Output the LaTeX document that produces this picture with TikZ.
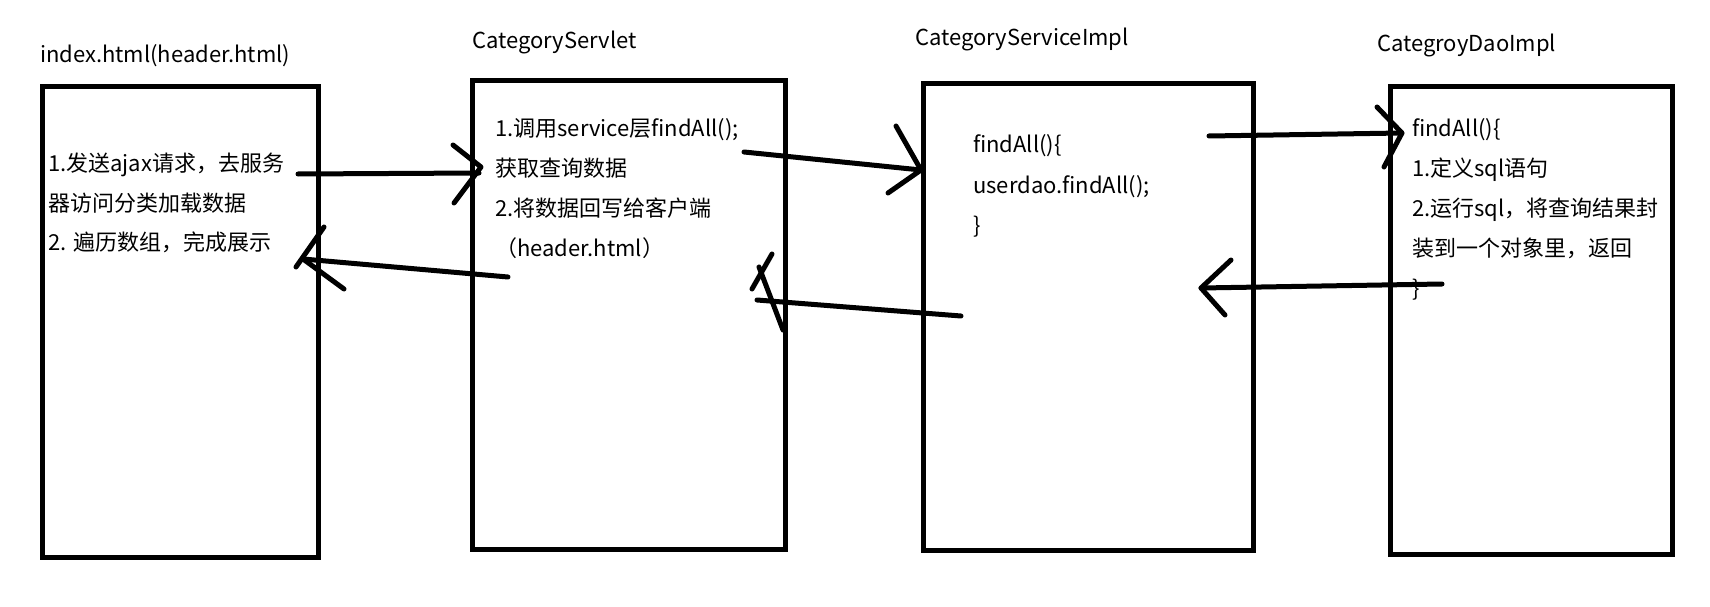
\documentclass[tikz,border=0pt]{standalone}
\usepackage{fontspec}
\setmainfont{Noto Sans CJK SC}
\usetikzlibrary{calc}

\begin{document}
\begin{tikzpicture}[x=1pt, y=-1pt,
  panel/.style={draw=black, line width=5pt, inner sep=0pt},
  pen/.style={black, line width=5pt, line cap=round, line join=round},
  lbl/.style={anchor=base west, inner sep=0pt, font=\fontsize{22pt}{26pt}\selectfont}]

  \fill[white] (0,0) rectangle (1710,607);
  \useasboundingbox (0,0) rectangle (1710,607);

  % the four layers
  \node[panel, minimum width=276pt, minimum height=470pt] (index) at (180,322) {};
  \node[panel, minimum width=313pt, minimum height=468pt] (servlet) at (628.5,315) {};
  \node[panel, minimum width=330pt, minimum height=466pt] (service) at (1088,317) {};
  \node[panel, minimum width=282pt, minimum height=467pt] (dao) at (1531,320.5) {};

  \node[lbl] (indexTitle) at (40,63) {index.html(header.html)};
  \node[lbl] (servletTitle) at (472,49) {CategoryServlet};
  \node[lbl] (serviceTitle) at (915,46) {CategoryServiceImpl};
  \node[lbl] (daoTitle) at (1377,52) {CategroyDaoImpl};

  \node[lbl] (index1) at (48,171) {1.发送ajax请求，去服务};
  \node[lbl] (index2) at (48,211) {器访问分类加载数据};
  \node[lbl] (index3) at (48,250) {2. 遍历数组，完成展示};

  \node[lbl] (servlet1) at (495,136) {1.调用service层findAll();};
  \node[lbl] (servlet2) at (495,176) {获取查询数据};
  \node[lbl] (servlet3) at (495,216) {2.将数据回写给客户端};
  \node[lbl] (servlet4) at (495,256) {（header.html）};

  \node[lbl] (service1) at (973,153) {findAll()\{};
  \node[lbl] (service2) at (973,193) {userdao.findAll();};
  \node[lbl] (service3) at (973,233) {\}};

  \node[lbl] (dao1) at (1412,136) {findAll()\{};
  \node[lbl] (dao2) at (1412,176) {1.定义sql语句};
  \node[lbl] (dao3) at (1412,216) {2.运行sql，将查询结果封};
  \node[lbl] (dao4) at (1412,256) {装到一个对象里，返回};
  \node[lbl] (dao5) at (1412,296) {\}};

  % hand drawn arrows, request direction
  \coordinate (reqA) at (298,174);
  \coordinate (reqAtip) at (481,167);
  \draw[pen] (reqA) -- (479,173);
  \draw[pen] ($(reqAtip)+(-28,-22)$) -- (reqAtip) -- ++(-27,36);

  \coordinate (reqB) at (744,152);
  \coordinate (reqBtip) at (921,170);
  \draw[pen] (reqB) -- (reqBtip);
  \draw[pen] ($(reqBtip)+(-25,-44)$) -- (reqBtip) -- ++(-33,23);

  \coordinate (reqC) at (1209,136);
  \coordinate (reqCtip) at (1402,133);
  \draw[pen] (reqC) -- (reqCtip);
  \draw[pen] ($(reqCtip)+(-25,-26)$) -- (reqCtip) -- ++(-18,34);

  % hand drawn arrows, response direction
  \coordinate (resC) at (1442,284);
  \coordinate (resCtip) at (1201,288);
  \draw[pen] (resC) -- (resCtip);
  \draw[pen] ($(resCtip)+(30,-28)$) -- (resCtip) -- ++(24,27);

  \coordinate (resB) at (961,316);
  \coordinate (resBtip) at (757,300);
  \draw[pen] (resB) -- (resBtip);
  \draw[pen] (772,254) -- (752,289);
  \draw[pen] (759,267) -- (783,330);

  \coordinate (resA) at (508,277);
  \coordinate (resAtip) at (303,259);
  \draw[pen] (resA) -- (resAtip);
  \draw[pen] (296,267) -- (324,227);
  \draw[pen] (resAtip) -- ++(41,30);

\end{tikzpicture}
\end{document}
